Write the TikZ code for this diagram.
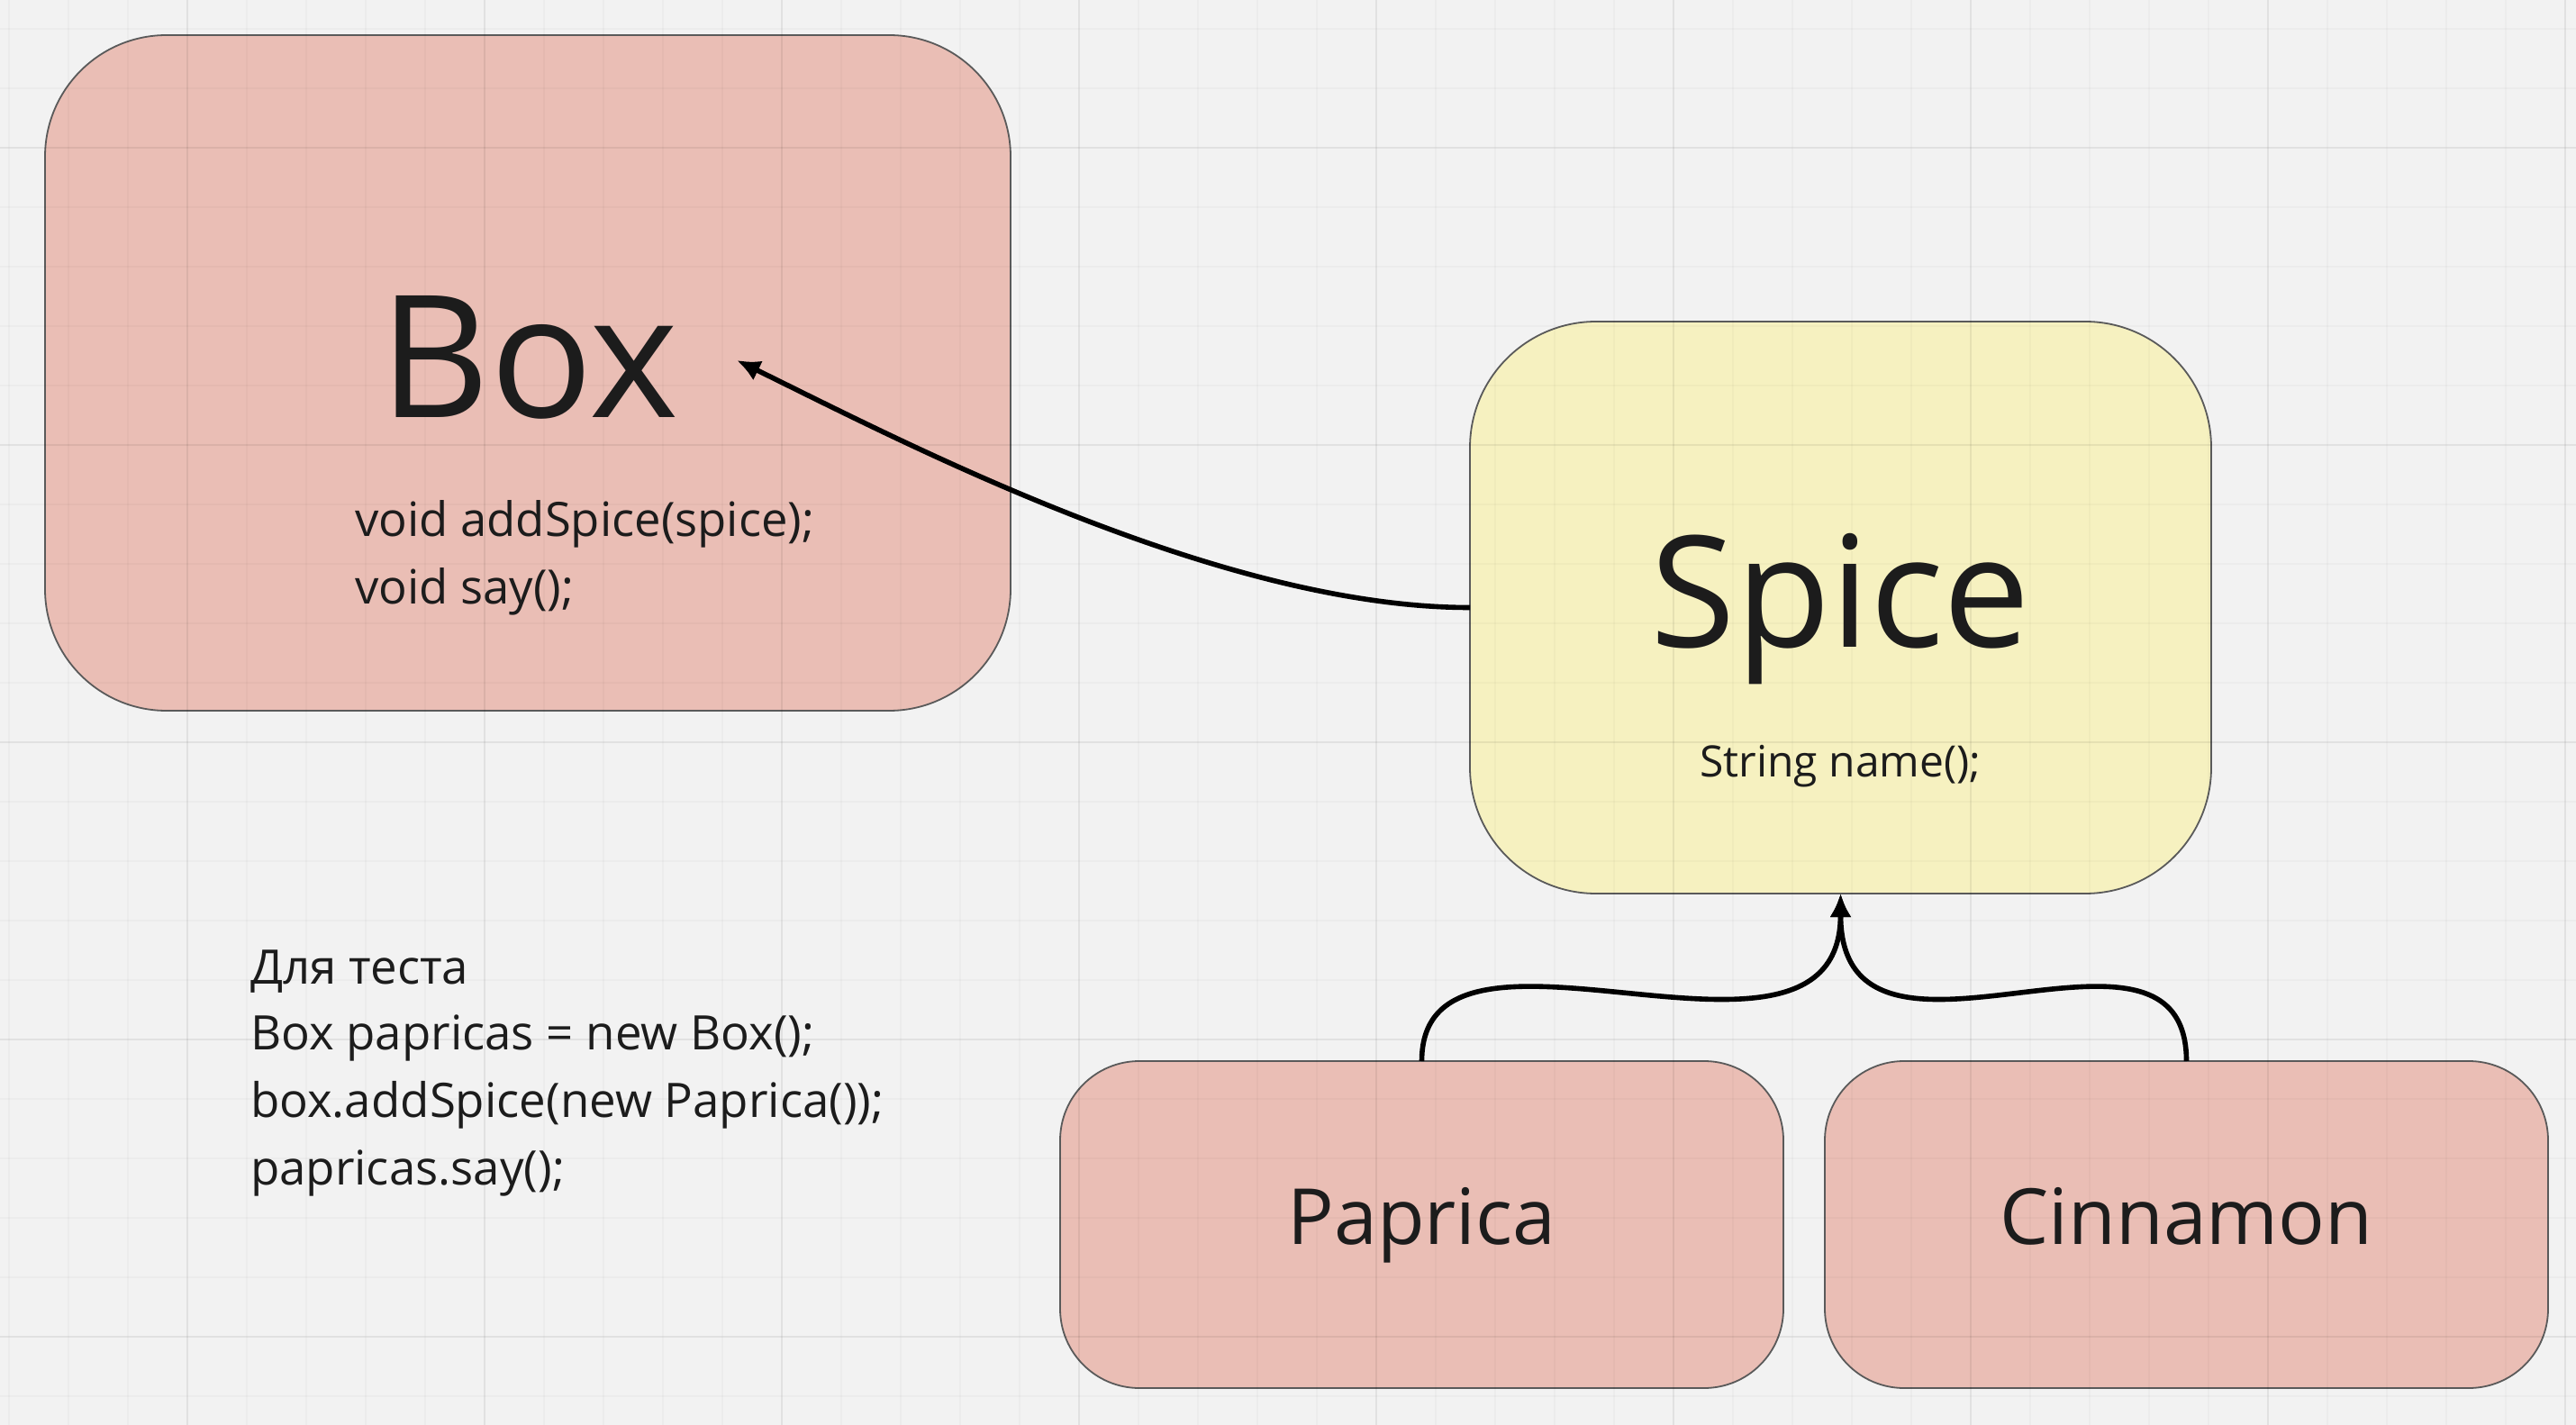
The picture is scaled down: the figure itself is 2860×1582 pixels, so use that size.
\documentclass[tikz,border=0pt]{standalone}
\usepackage{fontspec}
\setmainfont{Open Sans}
\usetikzlibrary{arrows.meta}
\definecolor{bgc}{RGB}{242,242,242}
\definecolor{pinkc}{RGB}{234,190,181}
\definecolor{yellowc}{RGB}{246,241,192}
\definecolor{edgec}{RGB}{90,90,90}
\definecolor{txtc}{RGB}{28,28,28}
\tikzset{
  card/.style={draw=edgec, line width=0.45pt, inner sep=0pt, outer sep=0pt},
  lbl/.style={inner sep=0pt, outer sep=0pt, text=txtc},
  conn/.style={draw=black, line width=1.4pt, -{Latex[length=6.5pt,width=6pt]}},
  minorgrid/.style={draw=black, draw opacity=0.025, line width=0.5pt},
  majorgrid/.style={draw=black, draw opacity=0.045, line width=0.5pt}
}
\begin{document}
\begin{tikzpicture}[x=0.25pt,y=-0.25pt]
\fill[bgc] (0,0) rectangle (2860,1582);
\useasboundingbox (0,0) rectangle (2860,1582);

% cards
\node[card, fill=pinkc, rounded corners=33.75pt, minimum width=268pt, minimum height=187.5pt] (box) at (586,414) {};
\node[card, fill=yellowc, rounded corners=35pt, minimum width=205.75pt, minimum height=158.75pt] (spice) at (2043.5,674.5) {};
\node[card, fill=pinkc, rounded corners=22pt, minimum width=200.75pt, minimum height=90.75pt] (pap) at (1578.5,1359.5) {};
\node[card, fill=pinkc, rounded corners=22pt, minimum width=200.75pt, minimum height=90.75pt] (cin) at (2427.5,1359.5) {};

% grid (faint, visible through cards)
\foreach \x in {10,76,...,2860} \draw[minorgrid] (\x,0) -- (\x,1582);
\foreach \y in {32,98,...,1582} \draw[minorgrid] (0,\y) -- (2860,\y);
\foreach \x in {208,538,...,2860} \draw[majorgrid] (\x,0) -- (\x,1582);
\foreach \y in {164,494,...,1582} \draw[majorgrid] (0,\y) -- (2860,\y);

% texts
\node[lbl, anchor=base] (boxtitle) at (588,464) {\fontsize{47.3pt}{56pt}\selectfont Box};
\node[lbl, anchor=base west] (boxm1) at (394,596) {\fontsize{13.15pt}{18pt}\selectfont void addSpice(spice);};
\node[lbl, anchor=base west] (boxm2) at (394,671) {\fontsize{13.15pt}{18pt}\selectfont void say();};
\node[lbl, anchor=base] (spicetitle) at (2043.5,718) {\fontsize{43pt}{52pt}\selectfont Spice};
\node[lbl, anchor=base] (spicem) at (2043.5,862) {\fontsize{12pt}{15pt}\selectfont String name();};
\node[lbl, anchor=base] (paptitle) at (1578.5,1381) {\fontsize{21.5pt}{26pt}\selectfont Paprica};
\node[lbl, anchor=base] (cintitle) at (2427.5,1381) {\fontsize{21.5pt}{26pt}\selectfont Cinnamon};
\node[lbl, anchor=base west] (t1) at (278,1092) {\fontsize{13.2pt}{16pt}\selectfont Для теста};
\node[lbl, anchor=base west] (t2) at (278,1165) {\fontsize{13.2pt}{16pt}\selectfont Box papricas = new Box();};
\node[lbl, anchor=base west] (t3) at (278,1240) {\fontsize{13.2pt}{16pt}\selectfont box.addSpice(new Paprica());};
\node[lbl, anchor=base west] (t4) at (278,1315) {\fontsize{13.2pt}{16pt}\selectfont papricas.say();};

% connectors
\coordinate (boxtip) at (818,400);
\draw[conn] (spice.west) .. controls +(-280,0) and +(180,88) .. (boxtip);
\draw[conn] (pap.north) .. controls +(0,-200) and +(0,240) .. (spice.south);
\draw[conn] (cin.north) .. controls +(0,-200) and +(0,240) .. (spice.south);
\end{tikzpicture}
\end{document}
